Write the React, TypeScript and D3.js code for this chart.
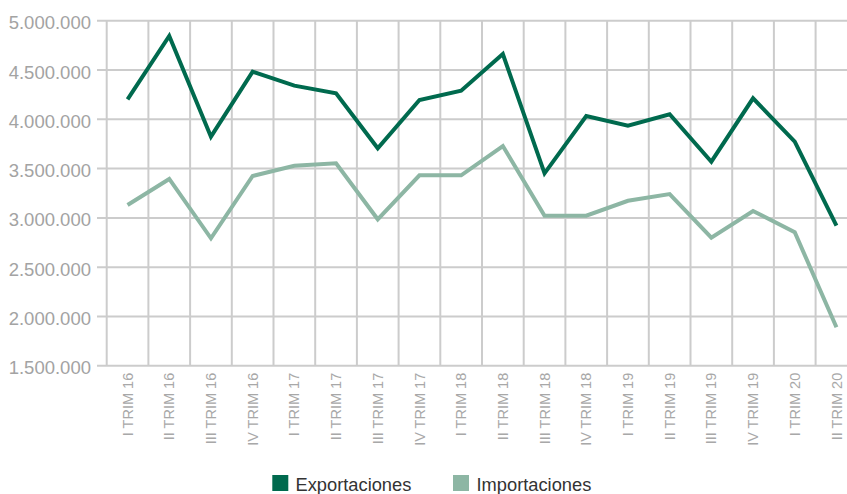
import React from "react";
import * as d3 from "d3";

const categories = [
  "I TRIM 16", "II TRIM 16", "III TRIM 16", "IV TRIM 16",
  "I TRIM 17", "II TRIM 17", "III TRIM 17", "IV TRIM 17",
  "I TRIM 18", "II TRIM 18", "III TRIM 18", "IV TRIM 18",
  "I TRIM 19", "II TRIM 19", "III TRIM 19", "IV TRIM 19",
  "I TRIM 20", "II TRIM 20",
];

const exportaciones = [
  4203000, 4845000, 3824000, 4483000,
  4341000, 4264000, 3706000, 4196000,
  4290000, 4662000, 3452000, 4033000,
  3935000, 4051000, 3570000, 4213000,
  3773000, 2921000,
];

const importaciones = [
  3131000, 3395000, 2793000, 3425000,
  3529000, 3554000, 2986000, 3432000,
  3432000, 3729000, 3022000, 3022000,
  3174000, 3242000, 2799000, 3070000,
  2854000, 1891000,
];

const yTicks = [1500000, 2000000, 2500000, 3000000, 3500000, 4000000, 4500000, 5000000];

const seriesNames = ["Exportaciones", "Importaciones"];
const seriesColors = ["#006a4e", "#8db6a4"];

const W = 847;
const H = 494;
const left = 106.7;
const top = 20.7;
const bottom = 365.8;
const bandW = 41.7;

const fmt = (v: number) => d3.format(",")(v).replace(/,/g, ".");

export default function App() {
  const x = d3
    .scaleBand<string>()
    .domain(categories)
    .range([left, left + bandW * categories.length])
    .paddingInner(0)
    .paddingOuter(0);
  const y = d3.scaleLinear().domain([1500000, 5000000]).range([bottom, top]);
  const cx = (c: string) => (x(c) as number) + x.bandwidth() / 2;

  const line = d3
    .line<number>()
    .x((_, i) => cx(categories[i]))
    .y((d) => y(d));

  const font = "'Liberation Sans', Arial, sans-serif";
  const gridColor = "#cccccc";

  return (
    <svg
      width={W}
      height={H}
      style={{ position: "absolute", left: 0, top: 0, background: "#fff" }}
      fontFamily={font}
    >
      {yTicks.map((t) => (
        <g key={t}>
          <line x1={97} x2={W} y1={y(t)} y2={y(t)} stroke={gridColor} strokeWidth={2} />
          <text
            x={91}
            y={y(t)}
            dy={8.5}
            textAnchor="end"
            fontSize={18.5}
            fill="#a3a3a3"
          >
            {fmt(t)}
          </text>
        </g>
      ))}
      {categories.map((c) => (
        <line
          key={c}
          x1={x(c) as number}
          x2={x(c) as number}
          y1={top}
          y2={bottom}
          stroke={gridColor}
          strokeWidth={2}
        />
      ))}
      {categories.map((c) => (
        <text
          key={"l" + c}
          transform={`translate(${cx(c)},${bottom + 7}) rotate(-90)`}
          textAnchor="end"
          dy="0.35em"
          fontSize={14.5}
          fill="#a8a8a8"
        >
          {c}
        </text>
      ))}
      {[exportaciones, importaciones].map((s, i) => (
        <path
          key={i}
          d={line(s) as string}
          fill="none"
          stroke={seriesColors[i]}
          strokeWidth={4}
          strokeLinejoin="miter"
        />
      ))}
      <rect x={272.3} y={475} width={16} height={16} fill={seriesColors[0]} />
      <text x={295.5} y={490.5} fontSize={18.3} fill="#333333">
        {seriesNames[0]}
      </text>
      <rect x={453} y={475} width={16} height={16} fill={seriesColors[1]} />
      <text x={476.5} y={490.5} fontSize={18.3} fill="#333333">
        {seriesNames[1]}
      </text>
    </svg>
  );
}
